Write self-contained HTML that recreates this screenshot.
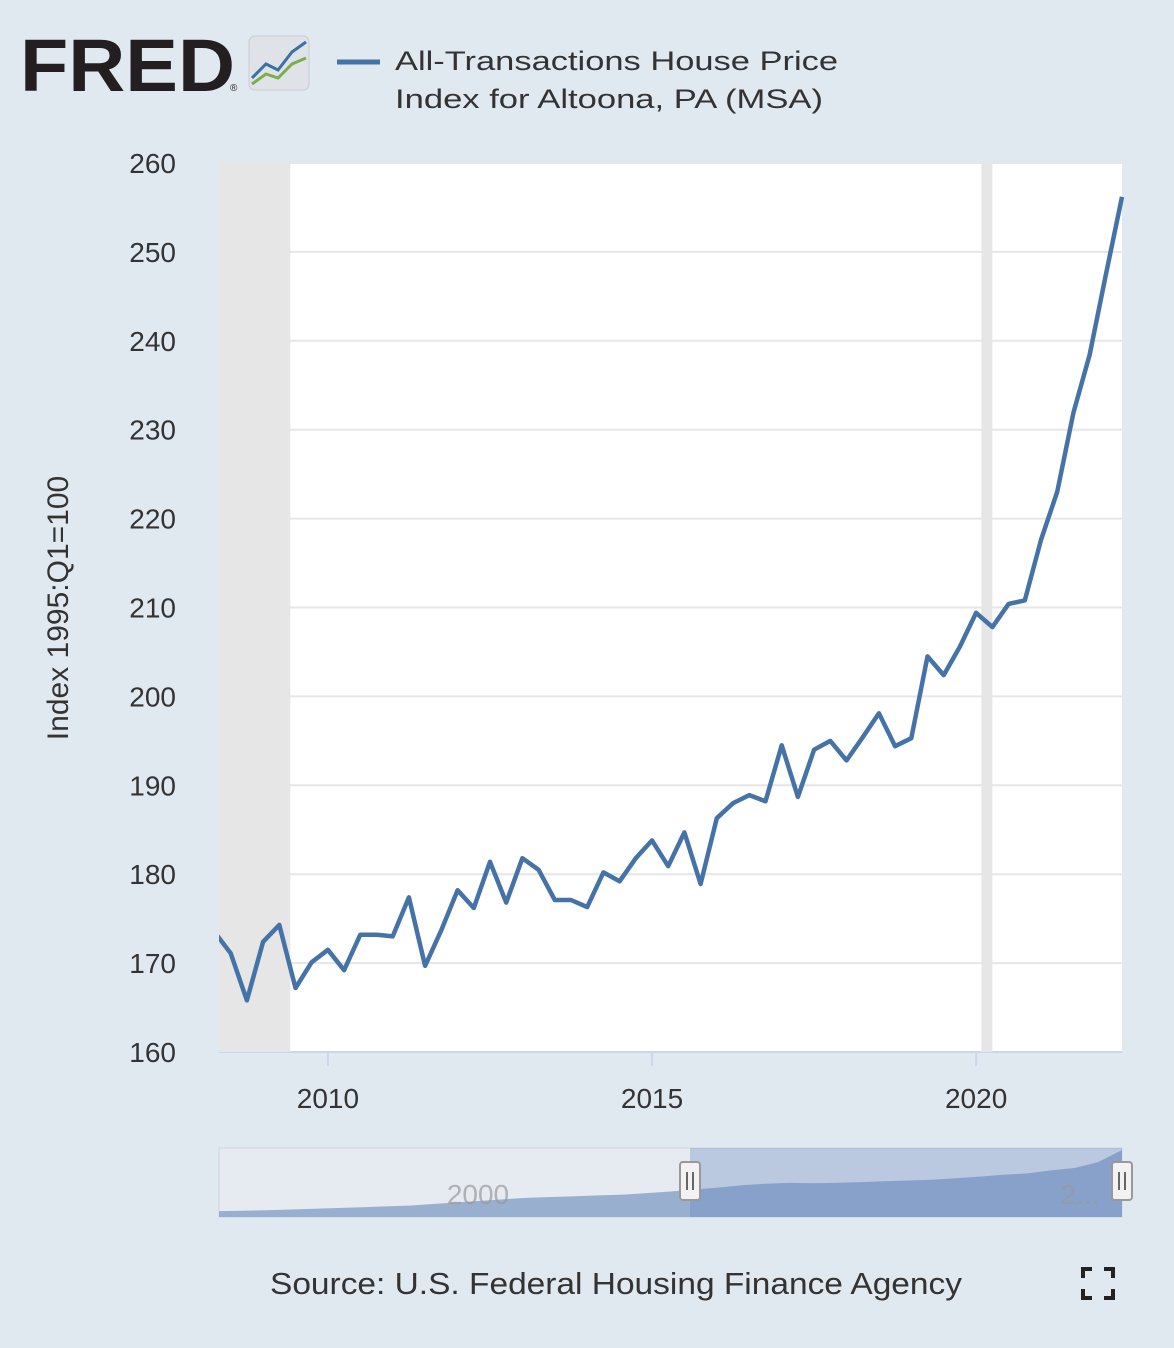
<!DOCTYPE html>
<html><head><meta charset="utf-8"><style>
body{margin:0;background:#e1e9f0;width:1174px;height:1348px;overflow:hidden;font-family:"Liberation Sans",sans-serif}
</style></head><body>
<svg width="1174" height="1348" style="position:absolute;left:0;top:0">
<g>
<text x="20" y="91" font-size="74" font-weight="bold" fill="#231f20" textLength="215" lengthAdjust="spacingAndGlyphs" font-family="Liberation Sans">FRED</text>
<text x="230" y="91" font-size="10" fill="#231f20">®</text>
<rect x="249" y="36" width="60" height="54" rx="6" fill="#dfe3e8" stroke="#c8ccd2"/>
<polyline points="252,78 266,64 278,70 292,52 306,42" fill="none" stroke="#3c6fa5" stroke-width="3"/>
<polyline points="252,84 266,74 278,78 292,64 306,58" fill="none" stroke="#7bae4a" stroke-width="3"/>
</g>
<g>
<line x1="337" y1="62" x2="380" y2="62" stroke="#4572a7" stroke-width="5"/>
<text x="395" y="70" font-size="27" fill="#333" textLength="443" lengthAdjust="spacingAndGlyphs">All-Transactions House Price</text>
<text x="395" y="108" font-size="27" fill="#333" textLength="428" lengthAdjust="spacingAndGlyphs">Index for Altoona, PA (MSA)</text>
</g>
<rect x="219" y="163" width="903" height="889" fill="#fff"/>
<g id="grid"></g>
<g id="rec"></g>
<g id="yt"></g>
<g id="xt"></g>
<text transform="translate(68,608) rotate(-90)" text-anchor="middle" font-size="30" fill="#333">Index 1995:Q1=100</text>
<defs><clipPath id="cp"><rect x="219" y="150" width="905" height="910"/></clipPath></defs>
<path id="line" clip-path="url(#cp)" fill="none" stroke="#4572a7" stroke-width="4.5" stroke-linejoin="round"/>
<g>
<rect x="219" y="1148" width="903" height="69" fill="#e6ebf1" stroke="#ccd6e0"/>
<path id="navarea" fill="#8fa9cb" opacity="0.9"/>
<rect x="690" y="1148" width="432" height="69" fill="#6688c0" opacity="0.35"/>
<text x="478" y="1204" text-anchor="middle" font-size="28" fill="#999" opacity="0.7">2000</text>
<text x="1080" y="1204" text-anchor="middle" font-size="28" fill="#999" opacity="0.7">2...</text>
<g><rect x="680" y="1162" width="20" height="38" rx="3" fill="#f2f2f2" stroke="#999" stroke-width="2"/><line x1="687" y1="1172" x2="687" y2="1190" stroke="#666" stroke-width="2"/><line x1="693" y1="1172" x2="693" y2="1190" stroke="#666" stroke-width="2"/></g>
<g><rect x="1112" y="1162" width="20" height="38" rx="3" fill="#f2f2f2" stroke="#999" stroke-width="2"/><line x1="1119" y1="1172" x2="1119" y2="1190" stroke="#666" stroke-width="2"/><line x1="1125" y1="1172" x2="1125" y2="1190" stroke="#666" stroke-width="2"/></g>
</g>
<text x="270" y="1294" font-size="31" fill="#333" textLength="692" lengthAdjust="spacingAndGlyphs">Source: U.S. Federal Housing Finance Agency</text>
<g stroke="#222" stroke-width="4" fill="none">
<path d="M1083,1278 v-9 h9 M1104,1269 h9 v9 M1113,1289 v9 h-9 M1092,1298 h-9 v-9"/>
</g>
</svg>
<script>
const startYear = 2008.25;
const values = [173.5,171.1,165.8,172.4,174.3,167.2,170.1,171.5,169.2,173.2,173.2,173.0,177.4,169.7,173.7,178.2,176.2,181.4,176.8,181.8,180.5,177.1,177.1,176.3,180.2,179.2,181.8,183.8,180.9,184.7,178.9,186.3,188.0,188.9,188.2,194.5,188.7,194.0,195.0,192.8,195.4,198.1,194.4,195.3,204.5,202.4,205.6,209.4,207.8,210.4,210.8,217.6,223.0,231.9,238.4,247.4,256.2];
const yTicks = [160,170,180,190,200,210,220,230,240,250,260];
const xTicks = [2010,2015,2020];
const recessions = [[2007.92,2009.42],[2020.08,2020.25]];
const navValues = [100,101,102,104,106,108,110,112,114,118,122,126,130,134,136,138,140,142,146,150,155,160,166,170,172,171,172,174,176,178,180,184,188,193,196,204,210,225,256];
const X0=219,X1=1122,Y0=1052,Y1=163,D0=2008.32,D1=2022.25;
const xs=d=>X0+(d-D0)/(D1-D0)*(X1-X0);
const ys=v=>Y0-(v-160)/100*(Y0-Y1);
const ns="http://www.w3.org/2000/svg";
function mk(t,a,p){const e=document.createElementNS(ns,t);for(const k in a)e.setAttribute(k,a[k]);p.appendChild(e);return e;}
const grid=document.getElementById('grid'),yt=document.getElementById('yt'),xt=document.getElementById('xt'),rec=document.getElementById('rec');
yTicks.forEach(v=>{
 if(v>160){const l=mk('line',{x1:X0,x2:X1,y1:ys(v),y2:ys(v),stroke:'#e6e6e6','stroke-width':2},grid);
 
 }
 const t=mk('text',{x:176,y:ys(v)+10,'text-anchor':'end','font-size':28,fill:'#333'},yt);t.textContent=v;
 
 
});
mk('line',{x1:X0,x2:X1,y1:Y0,y2:Y0,stroke:'#ccd6eb','stroke-width':2},grid);
xTicks.forEach(v=>{
 mk('line',{x1:xs(v),x2:xs(v),y1:Y0,y2:Y0+14,stroke:'#ccd6eb','stroke-width':2},xt);
 const t=mk('text',{x:xs(v),y:1108,'text-anchor':'middle','font-size':28,fill:'#333'},xt);t.textContent=v;
 
 
});
recessions.forEach(r=>{
 const a=Math.max(X0,xs(r[0])),b=Math.min(X1,xs(r[1]));
 const e=mk('rect',{x:a,y:Y1,width:Math.max(6,b-a),height:Y0-Y1,fill:'#e6e6e6'},rec);
 
 
});
document.getElementById('line').setAttribute('d',values.map((v,i)=>(i?'L':'M')+xs(startYear+i*0.25).toFixed(1)+','+ys(v).toFixed(1)).join(''));
const nb=1217,nt=1150,nx=i=>X0+i/(navValues.length-1)*(X1-X0),ny=v=>nb-(v-90)/(256-90)*(nb-nt-2)-2;
document.getElementById('navarea').setAttribute('d','M'+X0+','+nb+navValues.map((v,i)=>'L'+nx(i).toFixed(1)+','+ny(v).toFixed(1)).join('')+'L'+X1+','+nb+'Z');
</script>
</body></html>
